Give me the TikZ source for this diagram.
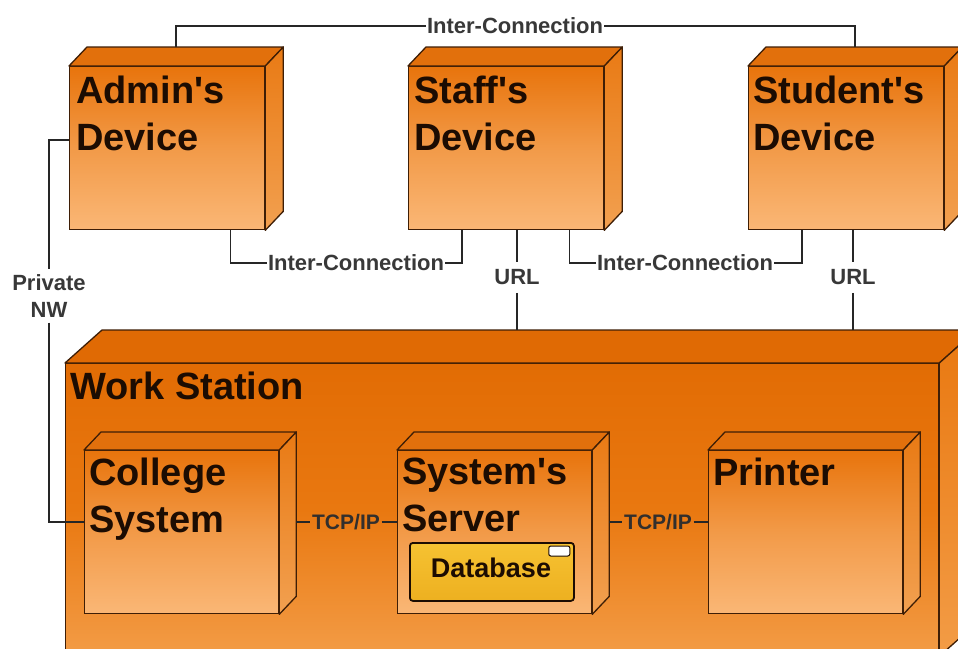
\documentclass[tikz,border=0pt]{standalone}
\usepackage{fontspec}
\setmainfont{Liberation Sans}
\usetikzlibrary{calc}

\definecolor{edge}{HTML}{3E1E06}
\definecolor{ink}{HTML}{1C0C02}
\definecolor{wire}{HTML}{262626}
\definecolor{labelgray}{HTML}{383838}
\definecolor{orTop}{HTML}{E8740C}
\definecolor{orMid}{HTML}{F29A48}
\definecolor{orLow}{HTML}{FAB776}
\definecolor{orFace}{HTML}{E2700C}
\definecolor{orSide}{HTML}{E97A14}
\definecolor{orSideLow}{HTML}{F2A050}
\definecolor{wsTop}{HTML}{E26C04}
\definecolor{wsMid}{HTML}{E97810}
\definecolor{wsLow}{HTML}{F39C46}
\definecolor{wsFace}{HTML}{E06A04}
\definecolor{dbTop}{HTML}{F6C232}
\definecolor{dbLow}{HTML}{EDB020}

\tikzset{
  boxfront/.style={draw=edge, line width=1.3pt, anchor=north west, inner sep=0pt,
    minimum width=195pt, minimum height=163pt,
    top color=orTop, bottom color=orLow, middle color=orMid},
  innerfront/.style={boxfront, minimum width=194pt},
  wsfront/.style={draw=edge, line width=1.3pt, anchor=north west, inner sep=0pt,
    minimum width=873pt, minimum height=292pt,
    top color=wsTop, bottom color=wsLow, middle color=wsMid},
  cubeTop/.style={draw=edge, line width=1.3pt, line join=round, fill=orFace},
  cubeSide/.style={draw=edge, line width=1.3pt, line join=round,
    top color=orSide, bottom color=orSideLow},
  wsTopFace/.style={draw=edge, line width=1.3pt, line join=round, fill=wsFace},
  wsSideFace/.style={draw=edge, line width=1.3pt, line join=round,
    top color=wsMid, bottom color=wsLow},
  bigtext/.style={font=\fontsize{38}{47}\selectfont\bfseries, text=ink,
    align=left, anchor=north west, inner sep=0pt},
  lbl/.style={font=\fontsize{22}{27}\selectfont\bfseries, text=labelgray,
    inner xsep=1pt, inner ysep=0pt},
  urllbl/.style={lbl, inner ysep=7.5pt},
  tcplbl/.style={font=\fontsize{21}{26}\selectfont\bfseries, text=labelgray!80!ink,
    inner xsep=1.5pt, inner ysep=0pt},
  conn/.style={draw=wire, line width=1.6pt},
  dbbox/.style={draw=ink, line width=1.8pt, rounded corners=3pt, anchor=north west,
    inner sep=0pt, minimum width=164pt, minimum height=58pt,
    top color=dbTop, bottom color=dbLow},
  dbicon/.style={draw=ink, line width=1pt, rounded corners=2pt, fill=white,
    inner sep=0pt, minimum width=21pt, minimum height=10pt},
}

% straight apostrophe
\newcommand\ap{\textquotesingle}

% top and right faces of a 3D node: node, dx, dy, top style, side style
\newcommand\cubefaces[5]{%
  \path[#4] (#1.north west) -- ($(#1.north west)+(#2,#3)$)
    -- ($(#1.north east)+(#2,#3)$) -- (#1.north east) -- cycle;
  \path[#5] (#1.north east) -- ($(#1.north east)+(#2,#3)$)
    -- ($(#1.south east)+(#2,#3)$) -- (#1.south east) -- cycle;
}

\begin{document}
\begin{tikzpicture}[x=1pt, y=-1pt]
\clip (0,0) rectangle (958,648);
\fill[white] (0,0) rectangle (958,648);

% work station
\node[wsfront] (ws) at (65,363) {};
\cubefaces{ws}{37}{-33}{wsTopFace}{wsSideFace}
\coordinate (wsback) at ($(ws.north west)+(37,-33)$);
\node[bigtext] (wsT) at (70,372) {Work Station};

% devices
\node[boxfront] (admin) at (69,66) {};
\cubefaces{admin}{18}{-19}{cubeTop}{cubeSide}
\node[bigtext] (adminT) at (76,76) {Admin\ap s\\Device};

\node[boxfront] (staff) at (408,66) {};
\cubefaces{staff}{18}{-19}{cubeTop}{cubeSide}
\node[bigtext] (staffT) at (414,76) {Staff\ap s\\Device};

\node[boxfront] (student) at (748,66) {};
\cubefaces{student}{18}{-19}{cubeTop}{cubeSide}
\node[bigtext] (studentT) at (753,76) {Student\ap s\\Device};

% nodes inside the work station
\node[innerfront] (college) at (84,450) {};
\cubefaces{college}{17}{-18}{cubeTop}{cubeSide}
\node[bigtext] (collegeT) at (89,458) {College\\System};

\node[innerfront] (server) at (397,450) {};
\cubefaces{server}{17}{-18}{cubeTop}{cubeSide}
\node[bigtext] (serverT) at (402,458) {System\ap s\\Server};

\node[innerfront] (printer) at (708,450) {};
\cubefaces{printer}{17}{-18}{cubeTop}{cubeSide}
\node[bigtext] (printerT) at (713,458) {Printer};

% database artifact
\node[dbbox] (db) at (409,542) {};
\node[dbicon] (dbIcon) at ($(db.north east)+(-15.5,9)$) {};
\node[font=\fontsize{27}{32}\selectfont\bfseries, text=ink, inner sep=0pt]
  (dbLabel) at (491,567.5) {Database};

% connector labels
\node[lbl] (icTop) at (515,26) {Inter-Connection};
\node[lbl] (icA) at (356,263) {Inter-Connection};
\node[lbl] (icB) at (685,263) {Inter-Connection};
\node[urllbl] (urlA) at (517,277.5) {URL};
\node[urllbl] (urlB) at (853,277.5) {URL};
\node[lbl, align=center, inner ysep=5pt] (priv) at (49,296) {Private\\NW};
\node[tcplbl] (tcp1) at (346,522) {TCP/IP};
\node[tcplbl] (tcp2) at (658,522) {TCP/IP};

% connectors
\draw[conn] ($(admin.north)+(9,-19)$) |- (icTop.west);
\draw[conn] (icTop.east) -| ($(student.north)+(9,-19)$);

\draw[conn] ($(admin.south east)+(-35,0)$) |- (icA.west);
\draw[conn] (icA.east) -| ($(staff.south west)+(54,0)$);
\draw[conn] ($(staff.south east)+(-35,0)$) |- (icB.west);
\draw[conn] (icB.east) -| ($(student.south west)+(54,0)$);

\draw[conn] ($(staff.south west)+(109,0)$) -- (urlA.north);
\draw[conn] (urlA.south) -- (urlA.south |- wsback);
\draw[conn] ($(student.south west)+(105,0)$) -- (urlB.north);
\draw[conn] (urlB.south) -- (urlB.south |- wsback);

\draw[conn] ($(admin.north west)+(0,74)$) -| (priv.north);
\draw[conn] (priv.south) |- ($(college.north west)+(0,72)$);

\draw[conn] ($(college.north east)+(17,72)$) -- (tcp1.west);
\draw[conn] (tcp1.east) -- ($(server.north west)+(0,72)$);
\draw[conn] ($(server.north east)+(17,72)$) -- (tcp2.west);
\draw[conn] (tcp2.east) -- ($(printer.north west)+(0,72)$);
\end{tikzpicture}
\end{document}
